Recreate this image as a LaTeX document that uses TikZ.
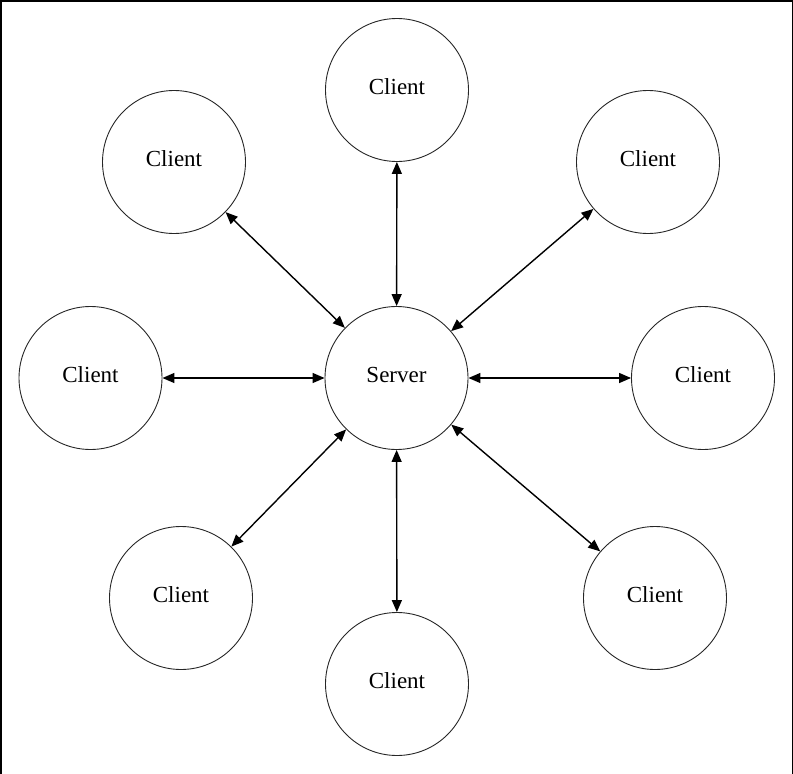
\documentclass[tikz,border=0pt]{standalone}
\usepackage{fontspec}
\setmainfont{Liberation Serif}
\usetikzlibrary{arrows.meta}
\begin{document}
\begin{tikzpicture}[x=1pt,y=-1pt,
  peer/.style={circle,draw=black!85,line width=0.9pt,minimum size=143pt,inner sep=0pt,
    font=\fontsize{23}{27}\selectfont,text height=8pt,text depth=0pt},
  link/.style={line width=1.4pt,{Triangle[length=12pt,width=10pt]}-{Triangle[length=12pt,width=10pt]}},
  frameline/.style={line width=1.5pt}]
\useasboundingbox (0,0) rectangle (793,774);
\draw[frameline] (0.75,774) coordinate (fbl) -- (0.75,0.75) coordinate (ftl) -- (792.25,0.75) coordinate (ftr) -- (792.25,774) coordinate (fbr);
\node[peer] (srv) at (396.5,378) {Server};
\node[peer] (ct)  at (397,90)  {Client};
\node[peer] (ctl) at (174,162) {Client};
\node[peer] (ctr) at (648,162) {Client};
\node[peer] (cl)  at (90.5,378) {Client};
\node[peer] (cr)  at (703,378) {Client};
\node[peer] (cbl) at (181,598) {Client};
\node[peer] (cbr) at (655,598) {Client};
\node[peer] (cb)  at (397,684) {Client};
\foreach \c in {ct,ctl,ctr,cl,cr,cbl,cbr,cb}
  \draw[link] (srv) -- (\c);
\end{tikzpicture}
\end{document}
